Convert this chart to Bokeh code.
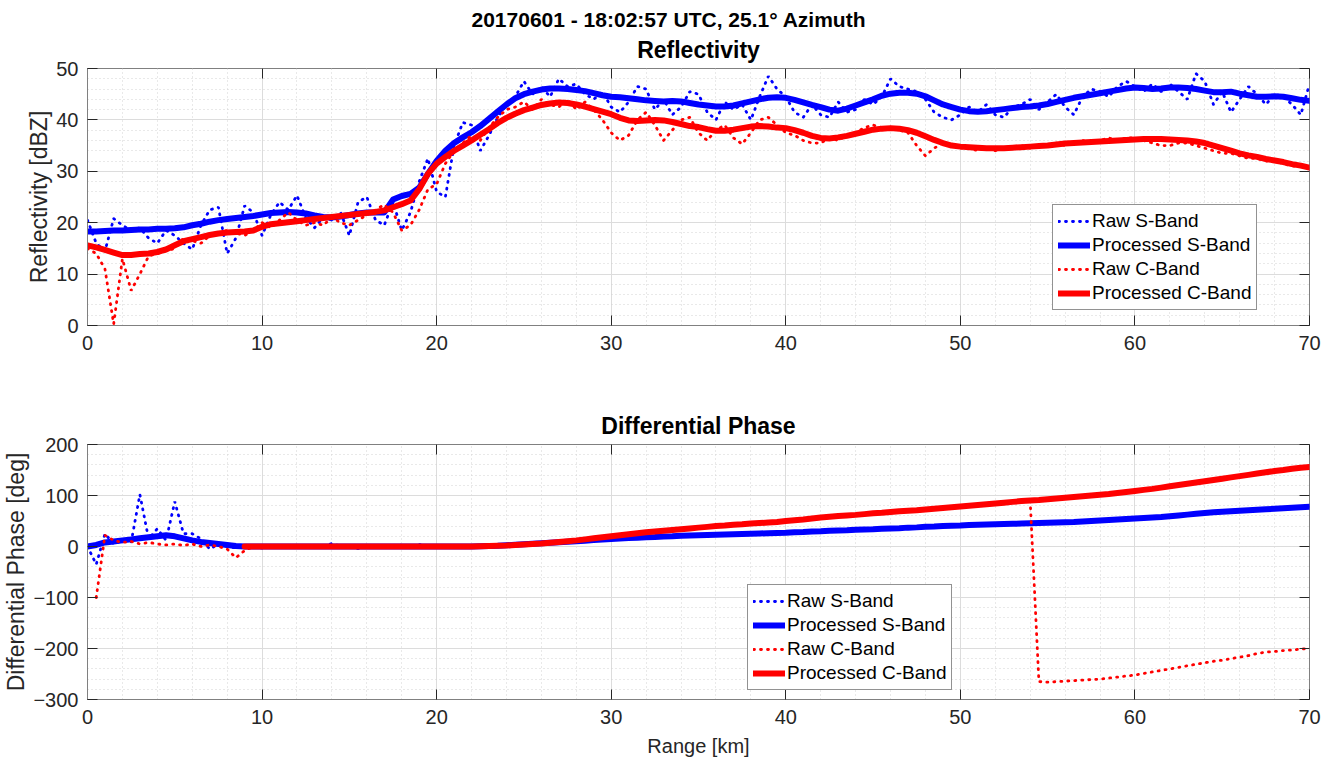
import numpy as np
from bokeh.plotting import figure
from bokeh.layouts import column
from bokeh.models import (Range1d, SingleIntervalTicker, LinearAxis, Title, Legend,
                          LegendItem, CustomJSTickFormatter)
from bokeh.embed import file_html
from bokeh.resources import INLINE

NaN = float("nan")
FONT = "Liberation Sans"
DARK = "#262626"
BLUE = "#0000ff"
RED = "#ff0000"

# ---------------- data (0.5 km gate spacing, 0 .. 70 km) ----------------
range_km = [round(0.5 * i, 1) for i in range(141)]

refl_raw_s = [
    20.5, 16.0, 14.5, 20.8, 19.5, 18.5, 19.0, 17.0, 16.0, 18.5,
    17.5, 16.0, 14.8, 19.5, 22.5, 23.0, 14.0, 17.0, 23.3, 22.0,
    17.5, 21.5, 24.0, 22.5, 25.3, 21.0, 19.0, 21.0, 20.5, 22.0,
    17.5, 24.0, 25.0, 20.5, 19.5, 24.0, 18.5, 22.0, 28.0, 32.5,
    26.0, 25.0, 35.0, 39.5, 39.0, 34.0, 37.0, 40.5, 43.0, 44.5,
    47.5, 45.0, 46.5, 44.5, 48.0, 46.5, 47.0, 45.0, 44.0, 45.5,
    42.5, 41.5, 43.5, 46.5, 46.0, 42.0, 44.0, 41.0, 42.5, 45.5,
    45.0, 41.5, 40.0, 43.5, 42.0, 43.0, 40.0, 44.5, 48.5, 46.0,
    44.5, 41.5, 40.5, 43.0, 41.0, 40.5, 43.5, 41.5, 42.0, 44.0,
    43.0, 44.5, 48.0, 46.5, 46.0, 45.5, 44.0, 41.5, 40.5, 40.0,
    41.0, 42.5, 41.5, 43.0, 41.0, 40.5, 42.5, 43.0, 44.0, 42.0,
    43.5, 45.0, 42.5, 41.0, 44.5, 46.0, 45.5, 44.5, 46.5, 47.5,
    46.5, 45.5, 47.0, 45.5, 47.0, 45.5, 44.0, 49.0, 47.5, 43.0,
    45.5, 41.5, 44.0, 46.5, 45.0, 43.0, 45.0, 44.5, 43.0, 41.0,
    47.0]

refl_proc_s = [
    18.3, 18.3, 18.4, 18.5, 18.5, 18.6, 18.7, 18.7, 18.8, 18.8,
    18.9, 19.1, 19.5, 19.8, 20.2, 20.5, 20.7, 20.9, 21.1, 21.3,
    21.6, 21.9, 22.0, 22.1, 22.0, 21.8, 21.4, 21.1, 21.0, 21.2,
    21.5, 21.8, 22.0, 22.0, 22.0, 24.5, 25.2, 25.6, 26.8, 29.5,
    32.0, 34.0, 35.5, 36.6, 37.6, 38.8, 40.2, 41.6, 43.0, 44.2,
    45.0, 45.5, 45.9, 46.1, 46.1, 46.0, 45.8, 45.6, 45.2, 44.8,
    44.5, 44.4, 44.2, 44.0, 43.8, 43.7, 43.6, 43.7, 43.6, 43.3,
    43.0, 42.8, 42.6, 42.6, 42.8, 43.2, 43.6, 44.0, 44.3, 44.4,
    44.3, 43.9, 43.4, 42.9, 42.5, 42.0, 41.8, 42.2, 42.8, 43.4,
    44.0, 44.7, 45.1, 45.3, 45.3, 45.1, 44.6, 43.8, 43.0, 42.5,
    42.0, 41.7, 41.6, 41.7, 41.9, 42.1, 42.3, 42.5, 42.6, 42.8,
    43.1, 43.5, 43.9, 44.3, 44.6, 44.9, 45.2, 45.5, 45.8, 46.1,
    46.3, 46.2, 46.0, 46.1, 46.3, 46.3, 46.2, 46.0, 45.7, 45.4,
    45.4, 45.5, 45.1, 44.8, 44.5, 44.5, 44.6, 44.5, 44.2, 43.9,
    43.7]

refl_raw_c = [
    15.0, 14.0, 11.0, 0.3, 13.0, 6.8, 10.0, 13.5, 14.0, 14.5,
    15.0, 17.0, 16.5, 16.0, 17.5, 18.0, 18.5, 18.0, 17.5, 18.5,
    20.0, 19.0, 20.5, 22.0, 20.5, 19.5, 20.0, 19.5, 21.0, 20.0,
    19.5, 20.5, 21.5, 22.5, 23.5, 22.0, 18.5, 19.5, 22.5, 26.5,
    27.5, 31.5, 34.0, 35.5, 37.0, 36.0, 38.5, 40.5, 42.0, 42.5,
    43.5, 42.0, 44.0, 43.0, 42.5, 44.0, 42.0, 43.5, 42.0, 40.0,
    37.5, 36.0, 37.0, 40.0, 41.5, 39.0, 36.0, 38.0, 40.0, 40.5,
    37.5, 36.0, 38.0, 39.0, 36.5, 35.3, 37.5, 40.0, 40.5, 39.0,
    37.5, 37.0, 36.0, 35.5, 35.5, 36.5, 36.0, 37.0, 37.5, 38.5,
    39.0, 38.5, 38.5, 38.0, 37.5, 35.0, 33.0, 34.5, 35.5, 35.0,
    34.5, 34.5, 34.0, 34.5, 34.0, 34.5, 34.5, 35.0, 34.5, 35.0,
    35.0, 35.5, 35.0, 35.5, 36.0, 35.5, 36.0, 36.5, 36.0, 36.5,
    36.5, 36.0, 35.5, 35.0, 35.0, 35.5, 35.5, 35.0, 34.5, 34.0,
    33.5, 33.5, 33.0, 32.5, 32.5, 32.0, 32.0, 31.5, 31.0, 31.0,
    30.5]

refl_proc_c = [
    15.6, 15.2, 14.7, 14.2, 13.7, 13.7, 13.9, 14.0, 14.3, 14.8,
    15.6, 16.4, 16.8, 17.2, 17.6, 17.9, 18.1, 18.2, 18.3, 18.5,
    19.2, 19.7, 19.9, 20.1, 20.3, 20.5, 20.7, 20.9, 21.1, 21.3,
    21.5, 21.7, 21.9, 22.1, 22.4, 23.0, 23.6, 24.3, 26.5, 29.5,
    31.5, 32.8, 34.0, 35.0, 36.0, 37.1, 38.2, 39.4, 40.4, 41.2,
    41.9, 42.4, 42.9, 43.2, 43.4, 43.3, 43.0, 42.6, 42.1, 41.6,
    41.1, 40.4, 39.9, 39.8, 39.9, 40.0, 39.9, 39.6, 39.2, 38.8,
    38.6, 38.2, 37.9, 37.9, 38.1, 38.4, 38.7, 38.8, 38.7, 38.5,
    38.4, 38.0, 37.5, 36.9, 36.5, 36.4, 36.6, 36.9, 37.3, 37.7,
    38.1, 38.3, 38.4, 38.3, 38.0, 37.5, 36.8, 36.1, 35.5, 35.0,
    34.8, 34.7, 34.6, 34.5, 34.5, 34.5, 34.6, 34.7, 34.8, 34.9,
    35.0, 35.2, 35.4, 35.5, 35.6, 35.7, 35.8, 35.9, 36.0, 36.1,
    36.2, 36.3, 36.3, 36.3, 36.2, 36.1, 36.0, 35.8, 35.5, 35.0,
    34.5, 34.0, 33.5, 33.1, 32.8, 32.4, 32.1, 31.8, 31.4, 31.1,
    30.7]

phase_raw_s = [
    0, -35, 25, 5, 12, 8, 102, 15, 35, 12,
    88, 25, 25, 15, -5, 5, 0, -3, 0, 0,
    -3, 0, 0, 0, 0, 0, 0, 0, 6, 0,
    0, -4, 0, 0, 0, 0, 3, 0, 4, 0,
    0, 0, 0, 0, 0, 0.5, 1, 1.5, 2.5, 3.5,
    4.5, 5.5, 6.5, 7.5, 8.5, 9.5, 10.5, 11.5, 12.5, 13.5,
    14.5, 15.5, 16.5, 17, 18, 18.5, 19.5, 20, 21, 21.5,
    22, 22.5, 23, 23.5, 24, 24.5, 25, 25.5, 26, 26.5,
    27, 28, 28.5, 29.5, 30, 31, 31.5, 32, 33, 33.5,
    34, 35, 35.5, 36, 37, 37.5, 38.5, 39, 40, 40.5,
    41, 42, 42.5, 43, 43.5, 44, 44.5, 45, 45.5, 46,
    46.5, 47, 47.5, 48, 49, 50, 51, 52, 53, 54,
    55, 56, 57, 58, 59.5, 61, 62.5, 64, 65.5, 67,
    68, 69, 70, 71, 72, 73, 74, 75, 76, 77,
    78]

phase_proc_s = [
    0, 3, 8, 10, 12, 14, 16, 18, 20, 22,
    20, 16, 12, 9, 7, 5, 3, 1, 0, 0,
    0, 0, 0, 0, 0, 0, 0, 0, 0, 0,
    0, 0, 0, 0, 0, 0, 0, 0, 0, 0,
    0, 0, 0, 0, 0, 0.5, 1, 1.5, 2.5, 3.5,
    4.5, 5.5, 6.5, 7.5, 8.5, 9.5, 10.5, 11.5, 12.5, 13.5,
    14.5, 15.5, 16.5, 17, 18, 18.5, 19.5, 20, 21, 21.5,
    22, 22.5, 23, 23.5, 24, 24.5, 25, 25.5, 26, 26.5,
    27, 28, 28.5, 29.5, 30, 31, 31.5, 32, 33, 33.5,
    34, 35, 35.5, 36, 37, 37.5, 38.5, 39, 40, 40.5,
    41, 42, 42.5, 43, 43.5, 44, 44.5, 45, 45.5, 46,
    46.5, 47, 47.5, 48, 49, 50, 51, 52, 53, 54,
    55, 56, 57, 58, 59.5, 61, 62.5, 64, 65.5, 67,
    68, 69, 70, 71, 72, 73, 74, 75, 76, 77,
    78]

phase_raw_c = [
    NaN, -100, 22, 12, 8, 10, 5, 8, 5, 3,
    5, 2, 5, 0, 3, 0, -5, -22, -8, 0,
    0, 0, 0, 0, 0, 0, 0, 0, 0, 0,
    0, 0, 0, 0, 0, 0, 0, 0, 0, 0,
    0, 0, 0, 0, 0, 0.5, 1, 1.5, 2, 3,
    4, 5, 6, 7.5, 9, 10.5, 12, 14, 16, 18,
    20, 22, 24, 26, 28, 29.5, 31, 32.5, 34, 35.5,
    37, 38.5, 40, 41, 42.5, 43.5, 45, 46, 47, 48,
    50, 51.5, 53, 55, 57, 58.5, 60, 61, 62, 63.5,
    65, 66, 67.5, 69, 70, 71, 72.5, 74, 75.5, 77,
    78.5, 80, 81.5, 83, 84.5, 86, 87.5, 89, 90, -265,
    -266, -265, -264, -263, -262, -261, -260, -258, -256, -254,
    -252, -249, -246, -243, -240, -237, -234, -231, -228, -225,
    -223, -220, -217, -214, -210, -207, -206, -204, -203, -201,
    -200]

phase_proc_c = [
    NaN, NaN, NaN, NaN, NaN, NaN, NaN, NaN, NaN, NaN,
    NaN, NaN, NaN, NaN, NaN, NaN, NaN, NaN, 0, 0,
    0, 0, 0, 0, 0, 0, 0, 0, 0, 0,
    0, 0, 0, 0, 0, 0, 0, 0, 0, 0,
    0, 0, 0, 0, 0, 0.5, 1, 1.5, 2, 3,
    4, 5, 6, 7.5, 9, 10.5, 12, 14, 16, 18,
    20, 22, 24, 26, 28, 29.5, 31, 32.5, 34, 35.5,
    37, 38.5, 40, 41, 42.5, 43.5, 45, 46, 47, 48,
    50, 51.5, 53, 55, 57, 58.5, 60, 61, 62, 63.5,
    65, 66, 67.5, 69, 70, 71, 72.5, 74, 75.5, 77,
    78.5, 80, 81.5, 83, 84.5, 86, 87.5, 89, 90, 91,
    92.5, 94, 95.5, 97, 98.5, 100, 101.5, 103, 105, 107,
    109, 111, 113, 115.5, 118, 120.5, 123, 125.5, 128, 130.5,
    133, 135.5, 138, 140.5, 143, 145.5, 148, 150, 152.5, 154.5,
    156]

series_labels = ["Raw S-Band", "Processed S-Band", "Raw C-Band", "Processed C-Band"]
main_title = "20170601 - 18:02:57 UTC, 25.1\u00b0 Azimuth"

for s in (refl_raw_s, refl_proc_s, refl_raw_c, refl_proc_c,
          phase_raw_s, phase_proc_s, phase_raw_c, phase_proc_c):
    assert len(s) == len(range_km), len(s)


def make_panel(ymin, ymax, yint, ylabel, xlabel, border_top, border_bottom, frame_h):
    p = figure(x_range=Range1d(0, 70), y_range=Range1d(ymin, ymax),
               frame_width=1222, frame_height=frame_h,
               min_border_left=80, min_border_right=20,
               min_border_top=border_top, min_border_bottom=border_bottom,
               output_backend="svg", toolbar_location=None,
               background_fill_color="white", border_fill_color="white")
    xt = SingleIntervalTicker(interval=10, num_minor_ticks=5)
    yt = SingleIntervalTicker(interval=yint, num_minor_ticks=5)
    p.xaxis[0].ticker = xt
    p.yaxis[0].ticker = yt
    p.xgrid[0].ticker = xt
    p.ygrid[0].ticker = yt
    for g in (p.xgrid[0], p.ygrid[0]):
        g.grid_line_color = "#dcdcdc"
        g.grid_line_width = 1
        g.minor_grid_line_color = "#d2d2d2"
        g.minor_grid_line_dash = "1 3"
        g.minor_grid_line_width = 1
    for ax in (p.xaxis[0], p.yaxis[0]):
        ax.axis_line_color = "#808080"
        ax.major_tick_in = 10
        ax.major_tick_out = 0
        ax.major_tick_line_color = DARK
        ax.minor_tick_line_color = None
        ax.major_label_text_font = FONT
        ax.major_label_text_font_size = "20px"
        ax.major_label_text_color = DARK
        ax.axis_label_text_font = FONT
        ax.axis_label_text_font_style = "normal"
        ax.axis_label_text_color = DARK
    p.yaxis[0].axis_label = ylabel
    p.yaxis[0].axis_label_text_font_size = "23px"
    p.yaxis[0].major_label_standoff = 5
    p.yaxis[0].axis_label_standoff = 1
    p.xaxis[0].major_label_standoff = 6
    if xlabel:
        p.xaxis[0].axis_label = xlabel
        p.xaxis[0].axis_label_text_font_size = "20px"
        p.xaxis[0].axis_label_standoff = 8
    # box ticks on top and right
    for side, tk in (("above", xt), ("right", yt)):
        a = LinearAxis(ticker=tk, formatter=CustomJSTickFormatter(code="return ''"),
                       axis_line_color=None, major_tick_in=10, major_tick_out=0,
                       major_tick_line_color=DARK, minor_tick_line_color=None,
                       major_label_text_font_size="1px", major_label_standoff=0)
        p.add_layout(a, side)
    p.outline_line_color = "#808080"
    p.outline_line_width = 1
    return p


def add_series(p, ys_list, legend_xy):
    renderers = []
    for ys, color, raw in zip(ys_list, [BLUE, BLUE, RED, RED], [True, False, True, False]):
        y = np.array(ys, dtype=float)
        if raw:
            r = p.line(range_km, y, line_color=color, line_width=2.8,
                       line_dash="1 6", line_cap="round")
        else:
            r = p.line(range_km, y, line_color=color, line_width=6,
                       line_join="round", line_cap="round")
        renderers.append(r)
    items = [LegendItem(label=lab, renderers=[r]) for lab, r in zip(series_labels, renderers)]
    leg = Legend(items=items, location=legend_xy, margin=0, padding=5, spacing=2,
                 glyph_width=32, glyph_height=22, label_height=22, label_standoff=2,
                 label_text_font=FONT, label_text_font_size="19px", label_text_color="black",
                 border_line_color=DARK, border_line_width=1,
                 background_fill_color="white", background_fill_alpha=1.0)
    p.add_layout(leg)


# ---------------- top panel: reflectivity ----------------
p1 = make_panel(0, 50, 10, "Reflectivity [dBZ]", None, 68, 50, 257)
add_series(p1, [refl_raw_s, refl_proc_s, refl_raw_c, refl_proc_c], (965, 15))
p1.add_layout(Title(text="Reflectivity", align="center", text_font=FONT,
                    text_font_size="23px", text_font_style="bold", text_color="black",
                    standoff=4), "above")
p1.add_layout(Title(text=main_title, align="left", text_font=FONT, offset=384,
                    text_font_size="21px", text_font_style="bold", text_color="black",
                    standoff=3), "above")

# ---------------- bottom panel: differential phase ----------------
p2 = make_panel(-300, 200, 100, "Differential Phase [deg]", "Range [km]", 69, 60, 255)
add_series(p2, [phase_raw_s, phase_proc_s, phase_raw_c, phase_proc_c], (660, 9))
p2.add_layout(Title(text="Differential Phase", align="center", text_font=FONT,
                    text_font_size="23px", text_font_style="bold", text_color="black",
                    standoff=4), "above")

layout = column(p1, p2, spacing=0)
open("out.html", "w").write(file_html(layout, INLINE))
